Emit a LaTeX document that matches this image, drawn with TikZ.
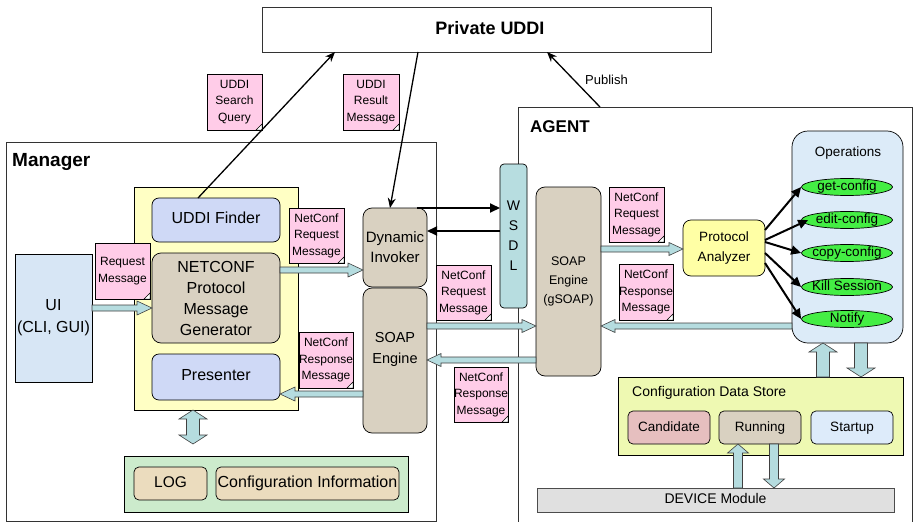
\documentclass[tikz,border=0pt]{standalone}
\usepackage{fontspec}
\setmainfont{Liberation Sans}
\usetikzlibrary{calc,shapes.geometric,arrows.meta}
\definecolor{notepink}{HTML}{FFCCE8}
\definecolor{ybox}{HTML}{FFFFC4}
\definecolor{tanfill}{HTML}{D9D1C1}
\definecolor{lav}{HTML}{CFD9F6}
\definecolor{uiblue}{HTML}{D7E6F5}
\definecolor{wsdlteal}{HTML}{B7DDE0}
\definecolor{arrteal}{HTML}{B5DCDF}
\definecolor{payellow}{HTML}{FFFFA5}
\definecolor{opsblue}{HTML}{DCEBF8}
\definecolor{opgreen}{HTML}{44EE44}
\definecolor{cdsgreen}{HTML}{EEF9B2}
\definecolor{candpink}{HTML}{E6BFBF}
\definecolor{startblue}{HTML}{DDEBFA}
\definecolor{gboxgreen}{HTML}{CCEBCC}
\definecolor{loggold}{HTML}{EBDCBE}
\definecolor{devgrey}{HTML}{E0E0E0}
\newcommand\blockarr[5]{%
  \coordinate (bs) at #4; \coordinate (be) at #5;
  \coordinate (bh) at ($(be)!#3!(bs)$);
  \draw[barrow] ($(bs)!#1!90:(be)$) -- ($(bh)!#1!-90:(bs)$) -- ($(bh)!#2!-90:(bs)$) -- (be)
    -- ($(bh)!#2!90:(bs)$) -- ($(bh)!#1!90:(bs)$) -- ($(bs)!#1!-90:(be)$) -- cycle;}
\newcommand\dblockarr[5]{%
  \coordinate (bs) at #4; \coordinate (be) at #5;
  \coordinate (h1) at ($(bs)!#3!(be)$); \coordinate (h2) at ($(be)!#3!(bs)$);
  \draw[barrow] (bs) -- ($(h1)!#2!90:(be)$) -- ($(h1)!#1!90:(be)$) -- ($(h2)!#1!-90:(bs)$)
    -- ($(h2)!#2!-90:(bs)$) -- (be) -- ($(h2)!#2!90:(bs)$) -- ($(h2)!#1!90:(bs)$)
    -- ($(h1)!#1!-90:(be)$) -- ($(h1)!#2!-90:(be)$) -- cycle;}
\begin{document}
\begin{tikzpicture}[x=1pt,y=-1pt,
  box/.style={draw=black, line width=0.7pt, inner sep=0pt, outer sep=0pt, anchor=north west, align=center},
  tanbox/.style={box, fill=tanfill, rounded corners=9pt},
  note/.style={draw=black, line width=0.5pt, fill=notepink, inner sep=0pt, outer sep=0pt,
    anchor=north west, align=center, font=\fontsize{12}{16.5}\selectfont,
    path picture={\draw[line width=0.5pt, fill=white]
      ([xshift=-6pt]path picture bounding box.south east) --
      ([yshift=6pt]path picture bounding box.south east) --
      (path picture bounding box.south east) -- cycle;}},
  big/.style={font=\fontsize{16}{21}\selectfont},
  mid/.style={font=\fontsize{15}{20}\selectfont},
  small/.style={font=\fontsize{13.5}{19}\selectfont},
  oneline/.style={text height=0.72em, text depth=0pt},
  title/.style={font=\fontsize{18}{22}\selectfont\bfseries, inner sep=0pt},
  barrow/.style={draw=black!75, line width=0.6pt, fill=arrteal},
  thinarr/.style={line width=1.3pt, -{Stealth[length=10pt,width=8pt]}},
  thickarr/.style={line width=2pt, -{Triangle[length=10pt,width=9pt]}},
  opel/.style={ellipse, draw=black, line width=0.7pt, fill=opgreen, minimum width=91pt, minimum height=17pt, inner sep=0pt},
]
\useasboundingbox[fill=white] (0,0) rectangle (913,522);

% outer boxes
\node[box, minimum width=449pt, minimum height=45pt, draw=black!80] (uddi) at (262,7) {};
\node[title] (uddit) at (490,28) {Private UDDI};
\node[box, minimum width=430pt, minimum height=379pt, draw=black!80] (manager) at (6,142) {};
\node[title, font=\fontsize{19}{22}\selectfont\bfseries, anchor=west] (managert) at (12,162) {Manager};
\node[box, minimum width=394pt, minimum height=416pt, draw=black!80] (agent) at (518,107) {};
\node[title, font=\fontsize{17}{22}\selectfont\bfseries, anchor=west] (agentt) at (530,127) {AGENT};

% manager internals
\node[box, minimum width=164pt, minimum height=223pt, fill=ybox] (yb) at (134,187) {};
\node[box, big, oneline, minimum width=128pt, minimum height=44pt, fill=lav, rounded corners=7pt] (uddifinder) at (152,198) {UDDI Finder};
\node[tanbox, big, minimum width=128pt, minimum height=90pt] (netgen) at (152,253) {NETCONF\\Protocol\\Message\\Generator};
\node[box, big, oneline, minimum width=128pt, minimum height=46pt, fill=lav, rounded corners=7pt] (presenter) at (152,354) {Presenter};
\node[box, big, font=\fontsize{16}{22}\selectfont, minimum width=77pt, minimum height=128pt, fill=uiblue] (ui) at (15,254) {UI\\(CLI, GUI)};
\node[tanbox, mid, minimum width=64pt, minimum height=79pt] (dyn) at (363,208) {Dynamic\\Invoker};
\node[tanbox, mid, font=\fontsize{14.5}{21}\selectfont, minimum width=64pt, minimum height=145pt] (soapm) at (363,288) {SOAP\\Engine\\[4pt]};
\node[box, minimum width=284pt, minimum height=56pt, fill=gboxgreen] (gbox) at (124,456) {};
\node[box, oneline, font=\fontsize{15.5}{20}\selectfont, minimum width=73pt, minimum height=33pt, fill=loggold, rounded corners=5pt] (log) at (134,467) {LOG};
\node[box, big, oneline, minimum width=183pt, minimum height=33pt, fill=loggold, rounded corners=5pt] (cinfo) at (216,467) {Configuration Information};

% WSDL
\node[box, font=\fontsize{14}{20}\selectfont, minimum width=27pt, minimum height=144pt, fill=wsdlteal, rounded corners=4pt] (wsdl) at (500,164) {W\\S\\D\\L};

% agent internals
\node[tanbox, font=\fontsize{12.5}{19}\selectfont, minimum width=65pt, minimum height=189pt] (gsoap) at (536,187) {SOAP\\Engine\\(gSOAP)};
\node[box, font=\fontsize{13.5}{20}\selectfont, minimum width=82pt, minimum height=56pt, fill=payellow, rounded corners=8pt] (pa) at (683,220) {Protocol\\Analyzer};
\node[box, minimum width=111pt, minimum height=212pt, fill=opsblue, rounded corners=16pt] (ops) at (792,131) {};
\node[small, inner sep=0pt] (opst) at (848,153) {Operations};
\node[opel, label={[small, oneline, inner sep=0pt]center:get-config}] (e1) at (847,187) {};
\node[opel, label={[small, oneline, inner sep=0pt]center:edit-config}] (e2) at (847,220) {};
\node[opel, label={[small, oneline, inner sep=0pt]center:copy-config}] (e3) at (847,253) {};
\node[opel, label={[small, oneline, inner sep=0pt]center:Kill Session}] (e4) at (847,287) {};
\node[opel, label={[small, oneline, inner sep=0pt]center:Notify}] (e5) at (847,319) {};
\node[box, minimum width=285pt, minimum height=78pt, fill=cdsgreen] (cds) at (618,377) {};
\node[inner sep=0pt, anchor=west, font=\fontsize{14}{18}\selectfont] (cdst) at (632,393) {Configuration Data Store};
\node[box, small, oneline, minimum width=82pt, minimum height=33pt, fill=candpink, rounded corners=5pt] (cand) at (628,411) {Candidate};
\node[box, small, oneline, minimum width=82pt, minimum height=33pt, fill=tanfill, rounded corners=5pt] (run) at (719,411) {Running};
\node[box, small, oneline, minimum width=82pt, minimum height=33pt, fill=startblue, rounded corners=5pt] (start) at (811,411) {Startup};
\node[box, oneline, font=\fontsize{14}{18}\selectfont, minimum width=357pt, minimum height=24pt, fill=devgrey, draw=black!70] (device) at (537,488) {DEVICE Module};

% notes
\node[note, minimum width=55pt, minimum height=56pt] (searchnote) at (207,74) {UDDI\\Search\\Query};
\node[note, minimum width=56pt, minimum height=56pt] (resultnote) at (343,74) {UDDI\\Result\\Message};
\node[note, minimum width=55pt, minimum height=56pt] (reqnote) at (95,243) {Request\\Message};
\node[note, minimum width=55pt, minimum height=55pt] (ncreq1) at (289,208) {NetConf\\Request\\Message};
\node[note, minimum width=54pt, minimum height=56pt] (ncresp1) at (299,332) {NetConf\\Response\\Message};
\node[note, minimum width=55pt, minimum height=55pt] (ncreq2) at (436,265) {NetConf\\Request\\Message};
\node[note, minimum width=54pt, minimum height=55pt] (ncresp2) at (454,367) {NetConf\\Response\\Message};
\node[note, minimum width=55pt, minimum height=55pt] (ncreq3) at (609,187) {NetConf\\Request\\Message};
\node[note, minimum width=54pt, minimum height=56pt] (ncresp3) at (619,264) {NetConf\\Response\\Message};

% block arrows
\blockarr{3pt}{7pt}{15pt}{([yshift=10pt]ui.east)}{([yshift=-10pt]netgen.west)}
\blockarr{3pt}{7pt}{15pt}{([yshift=28pt]netgen.east)}{([yshift=-22.5pt]dyn.west)}
\blockarr{3pt}{7pt}{15pt}{([yshift=-33.5pt]soapm.west)}{([yshift=-17pt]presenter.east)}
\blockarr{3pt}{6.5pt}{14pt}{([yshift=34.5pt]soapm.east)}{([yshift=-44.5pt]gsoap.west)}
\blockarr{3pt}{6.5pt}{14pt}{([yshift=-78.5pt]gsoap.west)}{([yshift=0.5pt]soapm.east)}
\blockarr{3pt}{6.5pt}{14pt}{([yshift=32.5pt]gsoap.east)}{([yshift=-1pt]pa.west)}
\blockarr{3pt}{6.5pt}{14pt}{([yshift=-89pt]ops.west)}{([yshift=-44.5pt]gsoap.east)}
\blockarr{6.5pt}{14pt}{9pt}{([xshift=62.5pt]cds.north)}{([xshift=-24.5pt]ops.south)}
\blockarr{6.5pt}{14pt}{9pt}{([xshift=13.5pt]ops.south)}{([xshift=100.5pt]cds.north)}
\blockarr{4.5pt}{10.5pt}{9pt}{([xshift=22.5pt]device.north)}{([xshift=-22pt]run.south)}
\blockarr{4.5pt}{10.5pt}{9pt}{([xshift=14pt]run.south)}{([xshift=58.5pt]device.north)}
\dblockarr{6.5pt}{14pt}{9pt}{([xshift=-23pt]yb.south)}{([xshift=-73pt,yshift=12pt]gbox.north)}

% thin arrows
\draw[thinarr] ([xshift=46pt]uddifinder.north west) -- ([xshift=73pt]uddi.south west);
\draw[thinarr] ([xshift=156pt]uddi.south west) -- ([xshift=27pt]dyn.north west);
\draw[thinarr] ([xshift=82pt]agent.north west) -- ([xshift=285pt]uddi.south west);
\node[inner sep=0pt, anchor=west, font=\fontsize{13}{16}\selectfont] (publish) at (585,80) {Publish};

% thick arrows
\draw[thickarr] ([xshift=54pt]dyn.north west) -- ([yshift=28pt]wsdl.west);
\draw[thickarr] ([yshift=5pt]wsdl.west) -- ([yshift=16.5pt]dyn.east);
\draw[thickarr] ([yshift=18pt]pa.east) -- (e1.west);
\draw[thickarr] ([yshift=8pt]pa.east) -- ([xshift=7pt]e2.west);
\draw[thickarr] ([yshift=6pt]pa.east) -- (e3.west);
\draw[thickarr] ([yshift=-5pt]pa.east) -- (e4.west);
\draw[thickarr] ([yshift=-15pt]pa.east) -- (e5.west);
\end{tikzpicture}
\end{document}
